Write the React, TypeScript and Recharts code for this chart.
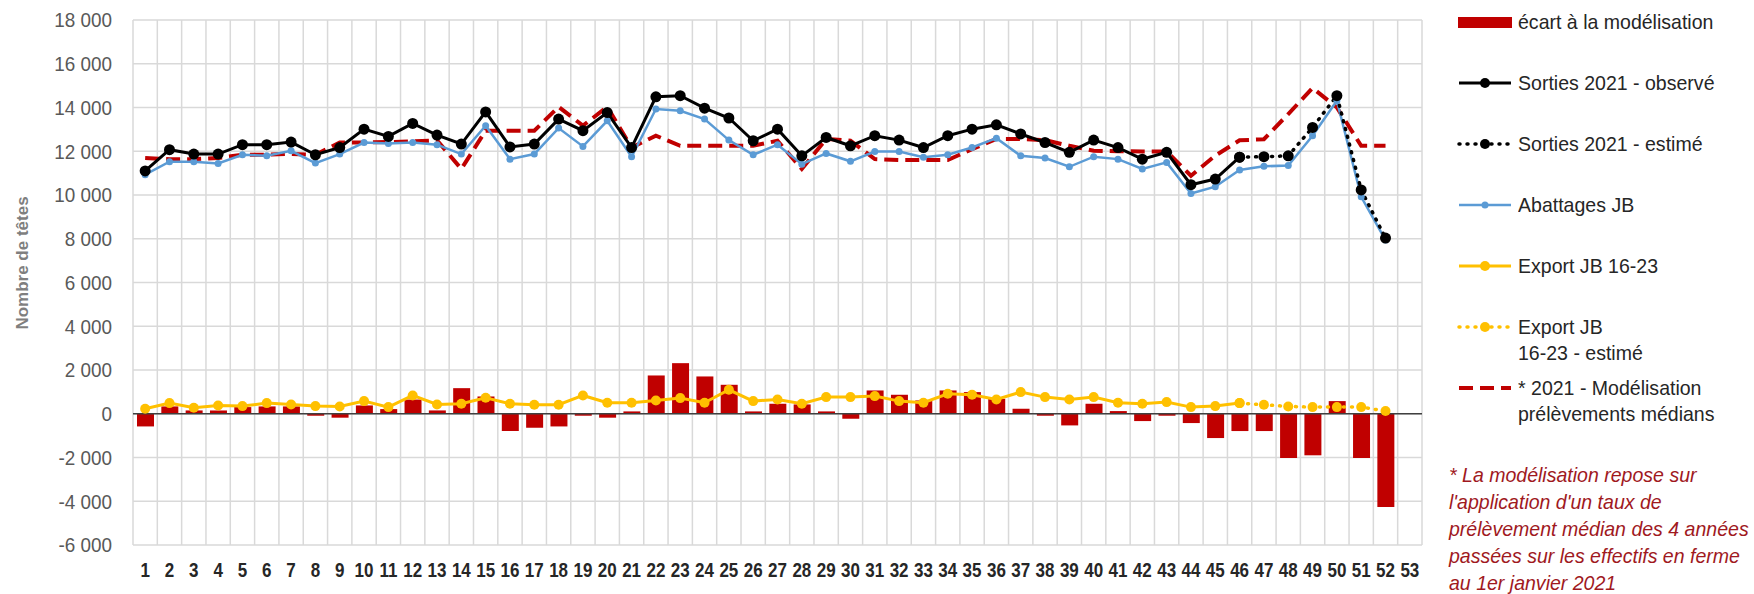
import React from "react";
import {
  ComposedChart,
  Bar,
  Line,
  XAxis,
  YAxis,
  CartesianGrid,
  ReferenceLine,
} from "recharts";

const FONT = "'Liberation Sans', Arial, sans-serif";

const weeks = [
  1, 2, 3, 4, 5, 6, 7, 8, 9, 10, 11, 12, 13, 14, 15, 16, 17, 18, 19, 20, 21,
  22, 23, 24, 25, 26, 27, 28, 29, 30, 31, 32, 33, 34, 35, 36, 37, 38, 39, 40,
  41, 42, 43, 44, 45, 46, 47, 48, 49, 50, 51, 52, 53,
];

// écart à la modélisation (bars)
const ecart = [
  -580, 335, 152, 150, 304, 335, 335, -90, -180, 380,
  213, 650, 152, 1170, 790, -790, -640, -580, -90, -180,
  107, 1750, 2313, 1705, 1324, 107, 457, 426, 107, -228,
  1065, 868, 609, 1065, 990, 685, 228, -90, -533, 457,
  122, -335, -90, -426, -1111, -791, -791, -2024, -1900, 578,
  -2024, -4262,
];

// Sorties 2021 - observé (weeks 1-46)
const sortiesObserve = [
  11100, 12070, 11870, 11870, 12300, 12300, 12420, 11840, 12170, 13010,
  12680, 13270, 12740, 12330, 13800, 12200, 12330, 13470, 12940, 13770,
  12170, 14490, 14540, 13970, 13520, 12480, 13010, 11790, 12630, 12250,
  12710, 12510, 12170, 12710, 13010, 13210, 12790, 12400, 11950, 12510,
  12170, 11640, 11950, 10470, 10730, 11730,
];

// Sorties 2021 - estimé (weeks 46-52)
const estimeFirstWeek = 46;
const sortiesEstime = [11730, 11750, 11790, 13090, 14540, 10230, 8030];

// Abattages JB (weeks 1-52)
const abattages = [
  10930, 11520, 11520, 11440, 11840, 11790, 12020, 11460, 11870, 12400,
  12360, 12400, 12300, 11870, 13170, 11640, 11870, 13060, 12220, 13390,
  11750, 13930, 13850, 13470, 12510, 11840, 12300, 11410, 11900, 11540,
  11990, 11990, 11730, 11840, 12170, 12600, 11790, 11690, 11290, 11750,
  11640, 11190, 11490, 10070, 10380, 11140, 11310, 11350, 12710, 14310,
  9920, 7940,
];

// Export JB 16-23 (weeks 1-46)
const exportJB = [
  228, 487, 274, 380, 350, 487, 426, 350, 335, 578,
  304, 837, 426, 457, 730, 457, 411, 411, 837, 502,
  502, 609, 715, 502, 1096, 578, 654, 457, 761, 761,
  807, 578, 502, 913, 868, 654, 990, 761, 654, 761,
  502, 457, 533, 304, 350, 487,
];

// Export JB 16-23 - estimé (weeks 46-52)
const exportEstime = [487, 411, 335, 304, 304, 304, 122];

// * 2021 - Modélisation prélèvements médians (weeks 1-52)
const modelisation = [
  11690, 11640, 11640, 11690, 11840, 11840, 11880, 11840, 12400, 12400,
  12420, 12450, 12500, 11190, 12940, 12940, 12940, 14030, 13170, 14030,
  12170, 12710, 12250, 12250, 12250, 12250, 12480, 11190, 12560, 12480,
  11640, 11600, 11600, 11600, 12100, 12560, 12560, 12510, 12250, 12020,
  12000, 11990, 11990, 10880, 11800, 12500, 12550, 13700, 14890, 14000,
  12250, 12250,
];

const yTicks = [-6000, -4000, -2000, 0, 2000, 4000, 6000, 8000, 10000, 12000, 14000, 16000, 18000];

const footnote = [
  "* La modélisation repose sur",
  "l'application d'un taux de",
  "prélèvement médian des 4 années",
  "passées sur les effectifs en ferme",
  "au 1er janvier 2021",
];

const data = weeks.map((week, i) => {
  const e = i - (estimeFirstWeek - 1);
  return {
    week,
    ecart: ecart[i] ?? null,
    observe: sortiesObserve[i] ?? null,
    estime: e >= 0 ? sortiesEstime[e] ?? null : null,
    abattages: abattages[i] ?? null,
    exportJB: exportJB[i] ?? null,
    exportEstime: e >= 0 ? exportEstime[e] ?? null : null,
    modelisation: modelisation[i] ?? null,
  };
});

const fmt = (v: number) => {
  const s = Math.abs(v).toString().replace(/\B(?=(\d{3})+(?!\d))/g, " ");
  return v < 0 ? `-${s}` : s;
};

// source text is a slightly condensed face, squeeze the regular one a bit
const XTick = (props: any) => {
  const { x, y, payload } = props;
  return (
    <g transform={`translate(${x},${y})`}>
      <text
        transform="scale(0.85,1)"
        textAnchor="middle"
        dy="0.71em"
        fontFamily={FONT}
        fontSize={20}
        fontWeight={700}
        fill="#262626"
      >
        {payload.value}
      </text>
    </g>
  );
};

const YTick = (props: any) => {
  const { x, y, payload } = props;
  return (
    <g transform={`translate(${x},${y})`}>
      <text
        transform="scale(0.9,1)"
        textAnchor="end"
        dy="0.355em"
        fontFamily={FONT}
        fontSize={21}
        fill="#595959"
      >
        {fmt(payload.value)}
      </text>
    </g>
  );
};

const legendItems = [
  { label: ["écart à la modélisation"], kind: "bar", color: "#C00000" },
  { label: ["Sorties 2021 - observé"], kind: "line", color: "#000000", width: 3, r: 5 },
  { label: ["Sorties 2021 - estimé"], kind: "line", color: "#000000", width: 3.5, r: 5, dash: "1 7" },
  { label: ["Abattages JB"], kind: "line", color: "#5B9BD5", width: 2.5, r: 3.5 },
  { label: ["Export JB 16-23"], kind: "line", color: "#FFC000", width: 3, r: 5 },
  { label: ["Export JB", "16-23 - estimé"], kind: "line", color: "#FFC000", width: 3.5, r: 5, dash: "1 7" },
  { label: ["* 2021 - Modélisation", "prélèvements médians"], kind: "line", color: "#C00000", width: 4, dash: "14 7" },
];

const LegendSwatch = ({ item }: { item: any }) => (
  <svg width={56} height={26} style={{ position: "absolute", left: 0, top: 0 }}>
    {item.kind === "bar" ? (
      <rect x={1} y={8} width={54} height={11} fill={item.color} />
    ) : (
      <>
        <line
          x1={2}
          x2={54}
          y1={13}
          y2={13}
          stroke={item.color}
          strokeWidth={item.width}
          strokeDasharray={item.dash}
          strokeLinecap={item.dash === "1 7" ? "round" : "butt"}
        />
        {item.r ? <circle cx={28} cy={13} r={item.r} fill={item.color} /> : null}
      </>
    )}
  </svg>
);

const ChartLegend = () => (
  <div style={{ position: "absolute", left: 1457, top: 0, fontFamily: FONT, fontSize: 21, color: "#262626" }}>
    {legendItems.map((item, i) => (
      <div key={i} style={{ position: "absolute", top: 9 + i * 61, left: 0, width: 300, height: 52 }}>
        <LegendSwatch item={item} />
        <div
          style={{
            position: "absolute",
            left: 61,
            top: 0,
            lineHeight: "26px",
            whiteSpace: "nowrap",
            transform: "scaleX(0.93)",
            transformOrigin: "left top",
          }}
        >
          {item.label.map((l, j) => (
            <div key={j}>{l}</div>
          ))}
        </div>
      </div>
    ))}
  </div>
);

const gridVerticals = ({ offset }: any) => {
  const n = weeks.length;
  return Array.from({ length: n + 1 }, (_, i) => offset.left + (i * offset.width) / n);
};

export default function App() {
  return (
    <div style={{ position: "relative", width: 1754, height: 594, background: "#fff", overflow: "hidden" }}>
      <style>{`body{margin:0}`}</style>
      <ComposedChart
        width={1754}
        height={594}
        data={data}
        margin={{ top: 20, right: 332, bottom: 0, left: 0 }}
      >
        <CartesianGrid
          stroke="#D9D9D9"
          strokeWidth={1.5}
          verticalCoordinatesGenerator={gridVerticals}
        />
        <XAxis
          dataKey="week"
          type="category"
          interval={0}
          height={49}
          axisLine={false}
          tickLine={false}
          tickMargin={12}
          tick={<XTick />}
        />
        <YAxis
          type="number"
          domain={[-6000, 18000]}
          ticks={yTicks}
          width={133}
          axisLine={false}
          tickLine={false}
          tickMargin={15}
          tick={<YTick />}
          label={{
            content: () => (
              <text
                x={22}
                y={263}
                transform="rotate(-90 22 263)"
                textAnchor="middle"
                dominantBaseline="central"
                fontFamily={FONT}
                fontSize={17}
                fontWeight={700}
                fill="#7F7F7F"
              >
                Nombre de têtes
              </text>
            ),
          }}
        />
        <Bar dataKey="ecart" fill="#C00000" barSize={17} isAnimationActive={false} />
        <ReferenceLine y={0} stroke="#404040" strokeWidth={1.5} />
        <Line
          dataKey="modelisation"
          stroke="#C00000"
          strokeWidth={4}
          strokeDasharray="14 7"
          dot={false}
          isAnimationActive={false}
        />
        <Line
          dataKey="abattages"
          stroke="#5B9BD5"
          strokeWidth={2.5}
          dot={{ r: 3.5, fill: "#5B9BD5", stroke: "none" }}
          isAnimationActive={false}
        />
        <Line
          dataKey="exportJB"
          stroke="#FFC000"
          strokeWidth={3}
          dot={{ r: 5, fill: "#FFC000", stroke: "none" }}
          isAnimationActive={false}
        />
        <Line
          dataKey="exportEstime"
          stroke="#FFC000"
          strokeWidth={3.5}
          strokeDasharray="1 7"
          strokeLinecap="round"
          dot={{ r: 5, fill: "#FFC000", stroke: "none" }}
          isAnimationActive={false}
        />
        <Line
          dataKey="estime"
          stroke="#000000"
          strokeWidth={3.5}
          strokeDasharray="1 7"
          strokeLinecap="round"
          dot={{ r: 5.5, fill: "#000000", stroke: "none" }}
          isAnimationActive={false}
        />
        <Line
          dataKey="observe"
          stroke="#000000"
          strokeWidth={3}
          dot={{ r: 5.5, fill: "#000000", stroke: "none" }}
          isAnimationActive={false}
        />
      </ComposedChart>
      <ChartLegend />
      <div
        style={{
          position: "absolute",
          left: 1449,
          top: 461,
          fontFamily: FONT,
          fontSize: 21,
          fontStyle: "italic",
          lineHeight: "27px",
          color: "#A0191E",
          whiteSpace: "nowrap",
          transform: "scaleX(0.93)",
          transformOrigin: "left top",
        }}
      >
        {footnote.map((l, i) => (
          <div key={i}>{l}</div>
        ))}
      </div>
    </div>
  );
}
